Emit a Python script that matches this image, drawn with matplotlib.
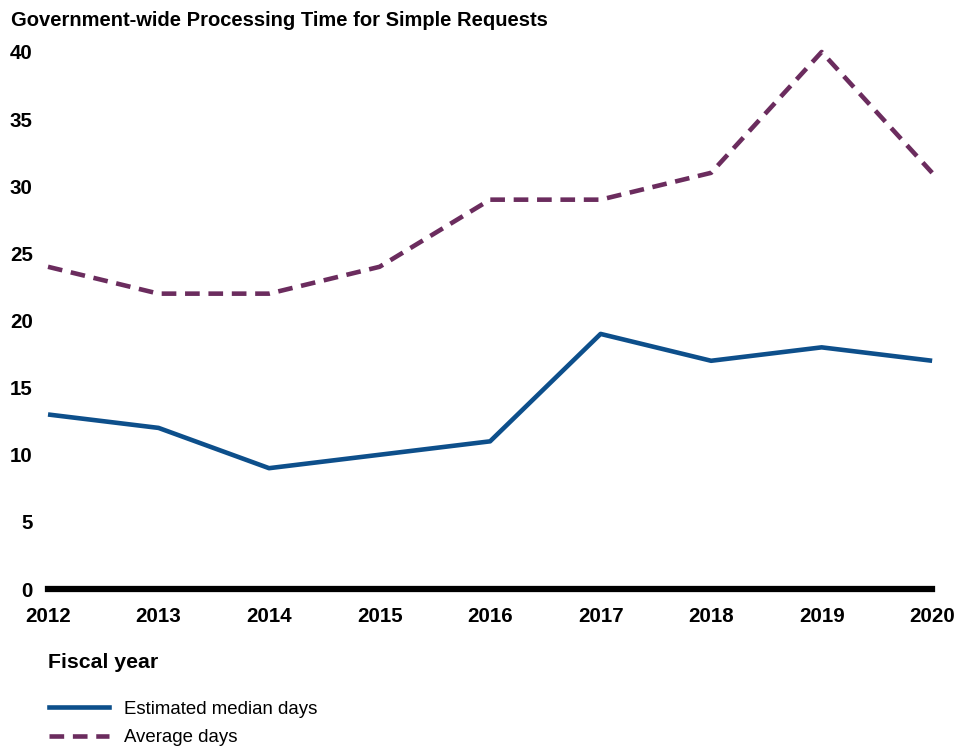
import matplotlib.pyplot as plt
from matplotlib.lines import Line2D

plt.rcParams['font.family'] = ['Liberation Sans', 'DejaVu Sans']

years = [2012, 2013, 2014, 2015, 2016, 2017, 2018, 2019, 2020]
median_days = [13, 12, 9, 10, 11, 19, 17, 18, 17]
average_days = [24, 22, 22, 24, 29, 29, 31, 40, 31]
y_ticks = [0, 5, 10, 15, 20, 25, 30, 35, 40]

blue = '#0d4f8b'
purple = '#6b2c5e'

fig = plt.figure(figsize=(9.72, 7.49), dpi=100)
ax = fig.add_axes([0.0494, 0.2136, 0.9096, 0.717])

ax.plot(years, median_days, color=blue, lw=3.3, solid_capstyle='butt', clip_on=False)
ax.plot(years, average_days, color=purple, lw=3.3, dashes=(3.2, 1.9), clip_on=False)

ax.set_xlim(2012, 2020)
ax.set_ylim(0, 40)
ax.set_xticks(years)
ax.set_yticks(y_ticks)
ax.tick_params(axis='both', length=0, labelsize=14.8)
ax.tick_params(axis='x', pad=13)
ax.tick_params(axis='y', pad=11)
for lab in ax.get_xticklabels() + ax.get_yticklabels():
    lab.set_fontweight('bold')

for s in ['top', 'right', 'left']:
    ax.spines[s].set_visible(False)
ax.spines['bottom'].set_linewidth(4.5)
ax.spines['bottom'].set_color('black')

fig.text(0.011, 0.973, 'Government-wide Processing Time for Simple Requests',
         fontsize=14.5, fontweight='bold', va='center', ha='left')
fig.text(0.0494, 0.116, 'Fiscal year', fontsize=15.3, fontweight='bold', va='center', ha='left')

handles = [Line2D([], [], color=blue, lw=3.3),
           Line2D([], [], color=purple, lw=3.3, dashes=(3.2, 1.9))]
fig.legend(handles, ['Estimated median days', 'Average days'],
           loc='lower left', bbox_to_anchor=(0.033, -0.019), frameon=False,
           fontsize=13.4, handlelength=3.25, handletextpad=0.8, labelspacing=0.62)

fig.savefig('out.png', dpi=100)
